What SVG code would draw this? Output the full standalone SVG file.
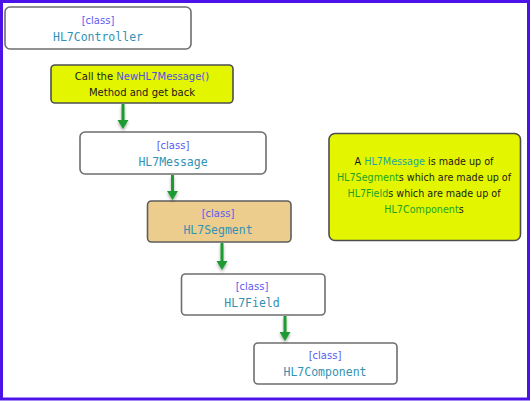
<svg xmlns="http://www.w3.org/2000/svg" width="531" height="401" viewBox="0 0 531 401">
<style>
.box{fill:#ffffff;stroke:#6e6e6e;stroke-width:1.6}
.seg{fill:#edcd8d;stroke:#5e5e5e;stroke-width:1.6}
.note{fill:#e3f600;stroke:#4e4e4e;stroke-width:1.6}
.st{font-family:"DejaVu Sans",Verdana,sans-serif;font-size:10px;text-anchor:middle}
.nt{font-size:9.6px}
.cls{fill:#5a5af2}
.nm{font-family:"DejaVu Sans Mono",monospace;font-size:11.5px;fill:#3292b4;text-anchor:middle}
.blk{fill:#1a1a1a}
.teal{fill:#1ba3ad}
.grn{fill:#23a323}
.meth{fill:#4f4fe0}
.conn line{stroke:#1f9b30;stroke-width:3}
.conn polygon{fill:#1f9b30}
</style>
<defs>
<filter id="sh" x="-50%" y="-20%" width="200%" height="150%">
<feGaussianBlur in="SourceAlpha" stdDeviation="1.5"/>
<feOffset dx="0" dy="2" result="b"/>
<feComponentTransfer><feFuncA type="linear" slope="0.35"/></feComponentTransfer>
<feMerge><feMergeNode/><feMergeNode in="SourceGraphic"/></feMerge>
</filter>
</defs>
<rect x="0" y="0" width="531" height="401" fill="#ffffff"/>
<rect x="1.5" y="1.5" width="527" height="397.5" fill="none" stroke="#4b13e8" stroke-width="3"/>

<g id="HL7Controller">
<rect class="box" x="5" y="7" width="186" height="42" rx="5"/>
<text class="st cls" x="98" y="24">[class]</text>
<text class="nm" x="98" y="41">HL7Controller</text>
</g>

<g id="call">
<rect class="note" x="51" y="65" width="182" height="38" rx="4"/>
<text class="st blk" x="142" y="80">Call the <tspan class="meth">NewHL7Message()</tspan></text>
<text class="st blk" x="142" y="96">Method and get back</text>
</g>

<g id="HL7Message">
<rect class="box" x="80" y="132" width="186" height="42" rx="5"/>
<text class="st cls" x="173" y="149">[class]</text>
<text class="nm" x="173" y="166">HL7Message</text>
</g>

<g id="HL7Segment">
<rect class="seg" x="147.5" y="201" width="143.5" height="41" rx="4"/>
<text class="st cls" x="218" y="217">[class]</text>
<text class="nm" x="218" y="234">HL7Segment</text>
</g>

<g id="HL7Field">
<rect class="box" x="181.5" y="274" width="143.5" height="41" rx="4"/>
<text class="st cls" x="252" y="290">[class]</text>
<text class="nm" x="252" y="307">HL7Field</text>
</g>

<g id="HL7Component">
<rect class="box" x="254" y="343" width="143" height="41" rx="4"/>
<text class="st cls" x="325" y="359">[class]</text>
<text class="nm" x="325" y="376">HL7Component</text>
</g>

<g id="notebox">
<rect class="note" x="329" y="133.5" width="191.5" height="107" rx="6"/>
<text class="st nt blk" x="424" y="165">A <tspan class="teal">HL7Message</tspan> is made up of</text>
<text class="st nt blk" x="424" y="181"><tspan class="grn">HL7Segment</tspan>s which are made up of</text>
<text class="st nt blk" x="424" y="197"><tspan class="grn">HL7Field</tspan>s which are made up of</text>
<text class="st nt blk" x="424" y="213"><tspan class="grn">HL7Component</tspan>s</text>
</g>

<g class="conn" filter="url(#sh)">
<line x1="123" y1="104" x2="123" y2="122"/>
<polygon points="117.5,120 128.5,120 123,129"/>
<line x1="172.5" y1="175" x2="172.5" y2="193"/>
<polygon points="167,191 178,191 172.5,200"/>
<line x1="222" y1="243" x2="222" y2="263"/>
<polygon points="216.5,261 227.5,261 222,270"/>
<line x1="285" y1="316" x2="285" y2="334"/>
<polygon points="279.5,332 290.5,332 285,341"/>
</g>
</svg>
